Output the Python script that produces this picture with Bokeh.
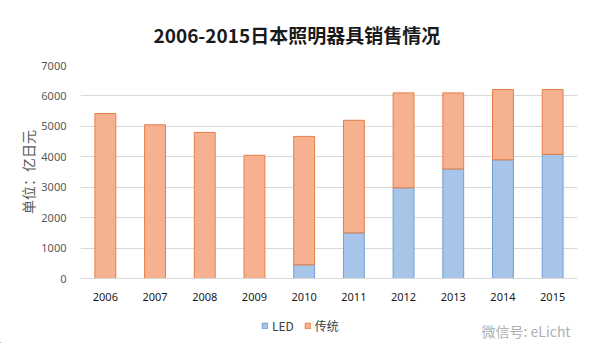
from bokeh.plotting import figure
from bokeh.layouts import column, row
from bokeh.models import (ColumnDataSource, Legend, LegendItem, Label, FactorRange,
                          SingleIntervalTicker, Spacer)
from bokeh.embed import file_html
from bokeh.resources import INLINE

years = ["2006", "2007", "2008", "2009", "2010", "2011", "2012", "2013", "2014", "2015"]
led = [0, 0, 0, 0, 450, 1500, 2980, 3600, 3900, 4080]
total = [5420, 5050, 4800, 4050, 4670, 5200, 6100, 6100, 6210, 6210]
traditional = [t - l for t, l in zip(total, led)]
series = ["LED", "传统"]
fills = ["#a7c5e8", "#f6b191"]
lines = ["#6f9fd4", "#e67d45"]

src = ColumnDataSource(dict(year=years, LED=led, trad=traditional))

p = figure(x_range=FactorRange(*years, range_padding=0), y_range=(0, 7000),
           width=569, height=308, output_backend="svg", toolbar_location=None,
           min_border_left=61, min_border_right=7, min_border_top=65, min_border_bottom=30)

p.title.text = "2006-2015日本照明器具销售情况"
p.title.align = "left"
p.title.text_font = "Noto Sans CJK SC"
p.title.text_font_size = "19px"
p.title.text_color = "#1a1a1a"
p.title.standoff = 35
p.title.offset = 73

r = p.vbar_stack(["LED", "trad"], x="year", width=0.42, source=src,
                 fill_color=fills, line_color=lines, line_width=1)

p.outline_line_color = None
p.xgrid.grid_line_color = None
p.ygrid.grid_line_color = "#d9d9d9"
p.yaxis.ticker = SingleIntervalTicker(interval=1000)
p.yaxis.axis_line_color = None
p.yaxis.major_tick_line_color = None
p.yaxis.minor_tick_line_color = None
p.yaxis.major_label_text_color = "#595959"
p.yaxis.major_label_text_font = "Noto Sans"
p.yaxis.major_label_text_font_size = "11px"
p.yaxis.major_label_standoff = 8
p.yaxis.axis_label = "单位：亿日元"
p.yaxis.axis_label_text_font = "Noto Sans CJK SC"
p.yaxis.axis_label_text_font_style = "normal"
p.yaxis.axis_label_text_font_size = "14px"
p.yaxis.axis_label_text_color = "#595959"
p.yaxis.axis_label_standoff = 0

p.xaxis.axis_line_color = "#d9d9d9"
p.xaxis.major_tick_line_color = None
p.xaxis.minor_tick_line_color = None
p.xaxis.major_label_text_color = "#1a1a1a"
p.xaxis.major_label_text_font = "Noto Sans"
p.xaxis.major_label_text_font_size = "11px"
p.xaxis.major_label_standoff = 8

# legend / watermark strip
q = figure(width=584, height=35, x_range=(0, 584), y_range=(0, 35),
           output_backend="svg", toolbar_location=None, min_border=0)
q.axis.visible = False
q.grid.grid_line_color = None
q.outline_line_color = None
dummies = [q.vbar(x=[-1000], top=[1], width=1, fill_color=fc, line_color=lc)
           for fc, lc in zip(fills, lines)]
legend = Legend(items=[LegendItem(label=s, renderers=[d]) for s, d in zip(series, dummies)],
                orientation="horizontal", location=(261, 9),
                label_text_font="Noto Sans CJK SC", label_text_font_size="12px",
                label_text_color="#404040", glyph_width=7, glyph_height=7,
                spacing=10, label_standoff=4, padding=0, margin=0,
                border_line_color=None, background_fill_alpha=0)
q.add_layout(legend)

wm = Label(x=481, y=13, text="微信号: eLicht", text_baseline="middle",
           text_font="Noto Sans CJK SC", text_font_size="14px", text_color="#b0b0b0")
q.add_layout(wm)

layout = column(row(Spacer(width=15, height=308), p, spacing=0), q, spacing=0)
open("out.html", "w").write(file_html(layout, INLINE))
